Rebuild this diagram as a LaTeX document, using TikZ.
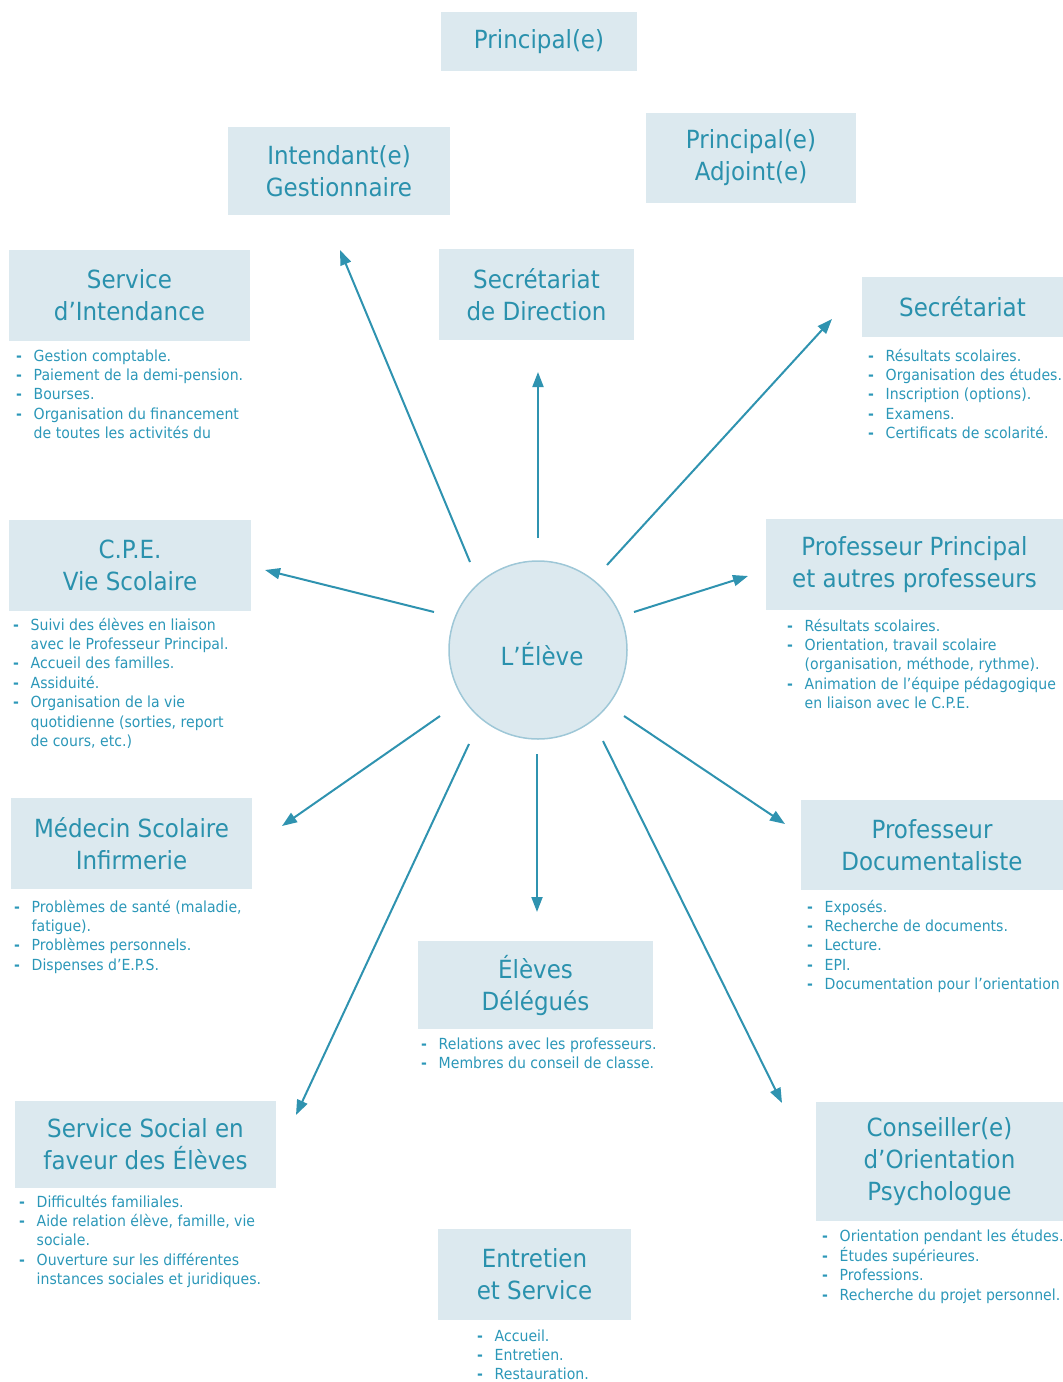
\documentclass[tikz,border=0pt]{standalone}
\usepackage{fontspec}
\setmainfont{DejaVu Sans}[FakeStretch=0.92]
\usetikzlibrary{arrows.meta}

\definecolor{boxfill}{HTML}{DCE9EF}
\definecolor{titre}{HTML}{2A91AD}
\definecolor{puce}{HTML}{2B97B8}
\definecolor{fleche}{HTML}{2F93B0}
\definecolor{cercle}{HTML}{9EC7D7}

\newcommand{\titrefont}{\fontsize{25}{32}\selectfont}
\newcommand{\listefont}{\fontsize{15.3}{19.4}\selectfont}
% bullet list with a dash column and a hanging text column
\newcommand{\puces}[1]{\listefont\begin{tabular}{@{}p{17.5pt}@{}l@{}}#1\end{tabular}}
\newcommand{\tiret}{\textbf{-}}

\tikzset{
  box/.style={fill=boxfill, draw=none, text=titre, font=\titrefont,
    align=center, inner sep=0pt},
  liste/.style={inner sep=0pt, text=puce, anchor=north west},
  lien/.style={draw=fleche, line width=2pt, -{Triangle[length=15pt,width=11pt]}},
}

\begin{document}
\begin{tikzpicture}[x=1pt,y=-1pt]
\useasboundingbox (0,0) rectangle (1063,1382);

% central circle
\node[circle, fill=boxfill, draw=cercle, line width=1.5pt, minimum size=178pt,
      inner sep=0pt] (eleve) at (538,650) {};
\node[text=titre, font=\titrefont, inner sep=0pt] (eleve-txt) at (542,654) {L’Élève};

% title boxes
\node[box, minimum width=196pt, minimum height=59pt] (prin) at (539,41.5) {Principal(e)};
\node[box, minimum width=222pt, minimum height=88pt] (intend) at (339,171) {Intendant(e)\\Gestionnaire};
\node[box, minimum width=210pt, minimum height=90pt] (adj) at (751,158) {Principal(e)\\Adjoint(e)};
\node[box, minimum width=241pt, minimum height=91pt] (servint) at (129.5,295.5) {Service\\d’Intendance};
\node[box, minimum width=195pt, minimum height=91pt] (secdir) at (536.5,294.5) {Secrétariat\\de Direction};
\node[box, minimum width=201pt, minimum height=60pt] (sec) at (962.5,307) {Secrétariat};
\node[box, minimum width=242pt, minimum height=91pt] (cpe) at (130,565.5) {C.P.E.\\Vie Scolaire};
\node[box, minimum width=297pt, minimum height=91pt] (pp) at (914.5,564.5) {Professeur Principal\\et autres professeurs};
\node[box, minimum width=241pt, minimum height=91pt] (med) at (131.5,843.5) {Médecin Scolaire\\Infirmerie};
\node[box, minimum width=262pt, minimum height=90pt] (doc) at (932,845) {Professeur\\Documentaliste};
\node[box, minimum width=235pt, minimum height=88pt] (del) at (535.5,985) {Élèves\\Délégués};
\node[box, minimum width=261pt, minimum height=87pt] (soc) at (145.5,1144.5) {Service Social en\\faveur des Élèves};
\node[box, minimum width=247pt, minimum height=119pt] (cons) at (939.5,1161.5) {\raisebox{-4pt}{\parbox{247pt}{\centering Conseiller(e)\\d’Orientation\\Psychologue}}};
\node[box, minimum width=193pt, minimum height=91pt] (ent) at (534.5,1274.5) {Entretien\\et Service};

% task lists
\node[liste] (l-servint) at (16,347.4) {\puces{
  \tiret & Gestion comptable.\\
  \tiret & Paiement de la demi-pension.\\
  \tiret & Bourses.\\
  \tiret & Organisation du financement\\
    & de toutes les activités du}};
\node[liste] (l-sec) at (868,347.4) {\puces{
  \tiret & Résultats scolaires.\\
  \tiret & Organisation des études.\\
  \tiret & Inscription (options).\\
  \tiret & Examens.\\
  \tiret & Certificats de scolarité.}};
\node[liste] (l-cpe) at (13,616.4) {\puces{
  \tiret & Suivi des élèves en liaison\\
    & avec le Professeur Principal.\\
  \tiret & Accueil des familles.\\
  \tiret & Assiduité.\\
  \tiret & Organisation de la vie\\
    & quotidienne (sorties, report\\
    & de cours, etc.)}};
\node[liste] (l-pp) at (787,617.4) {\puces{
  \tiret & Résultats scolaires.\\
  \tiret & Orientation, travail scolaire\\
    & (organisation, méthode, rythme).\\
  \tiret & Animation de l’équipe pédagogique\\
    & en liaison avec le C.P.E.}};
\node[liste] (l-med) at (14,898.4) {\puces{
  \tiret & Problèmes de santé (maladie,\\
    & fatigue).\\
  \tiret & Problèmes personnels.\\
  \tiret & Dispenses d’E.P.S.}};
\node[liste] (l-doc) at (807,898.4) {\puces{
  \tiret & Exposés.\\
  \tiret & Recherche de documents.\\
  \tiret & Lecture.\\
  \tiret & EPI.\\
  \tiret & Documentation pour l’orientation}};
\node[liste] (l-del) at (421,1035.4) {\puces{
  \tiret & Relations avec les professeurs.\\
  \tiret & Membres du conseil de classe.}};
\node[liste] (l-soc) at (19,1193.4) {\puces{
  \tiret & Difficultés familiales.\\
  \tiret & Aide relation élève, famille, vie\\
    & sociale.\\
  \tiret & Ouverture sur les différentes\\
    & instances sociales et juridiques.}};
\node[liste] (l-cons) at (822,1227.4) {\puces{
  \tiret & Orientation pendant les études.\\
  \tiret & Études supérieures.\\
  \tiret & Professions.\\
  \tiret & Recherche du projet personnel.}};
\node[liste] (l-ent) at (477,1327.4) {\puces{
  \tiret & Accueil.\\
  \tiret & Entretien.\\
  \tiret & Restauration.}};

% arrow ends around the circle and near the boxes
\coordinate (s-intend) at (470,562);   \coordinate (e-intend) at (340,250);
\coordinate (s-secdir) at (538,538);   \coordinate (e-secdir) at (538,372);
\coordinate (s-sec)    at (607,565);   \coordinate (e-sec)    at (832,319);
\coordinate (s-cpe)    at (434,612);   \coordinate (e-cpe)    at (265,570);
\coordinate (s-pp)     at (634,612);   \coordinate (e-pp)     at (748,576);
\coordinate (s-med)    at (440,716);   \coordinate (e-med)    at (282,826);
\coordinate (s-doc)    at (624,716);   \coordinate (e-doc)    at (785,824);
\coordinate (s-del)    at (537,754);   \coordinate (e-del)    at (537,912);
\coordinate (s-soc)    at (469,744);   \coordinate (e-soc)    at (296,1115);
\coordinate (s-cons)   at (603,741);   \coordinate (e-cons)   at (782,1103);

\foreach \n in {intend,secdir,sec,cpe,pp,med,doc,del,soc,cons}
  \draw[lien] (s-\n) -- (e-\n);
\end{tikzpicture}
\end{document}
